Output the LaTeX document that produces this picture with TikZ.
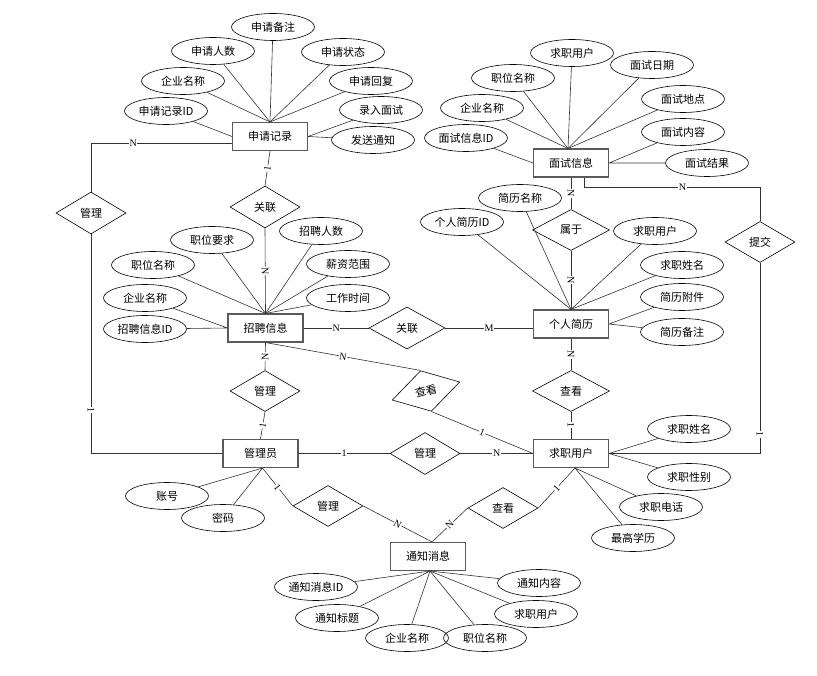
\documentclass[tikz,border=0pt]{standalone}
\usepackage{fontspec}
\setmainfont{Liberation Serif}
\newfontfamily\cjk{Noto Sans CJK SC}
\usetikzlibrary{shapes.geometric}

\begin{document}
\begin{tikzpicture}[x=1pt,y=-1pt,
    entity/.style={draw=black!65,line width=1.1pt,minimum width=75pt,minimum height=28pt,inner sep=0pt,font=\cjk\fontsize{11}{13}\selectfont},
    attr/.style={ellipse,draw,line width=0.6pt,minimum width=83pt,minimum height=27pt,inner sep=0pt,font=\cjk\fontsize{11}{13}\selectfont},
    rel/.style={diamond,draw,line width=0.6pt,minimum width=70pt,minimum height=42pt,inner sep=0pt,font=\cjk\fontsize{11}{13}\selectfont},
    card/.style={fill=white,inner sep=0.6pt,font=\fontsize{10}{10}\selectfont,sloped},
    link/.style={draw=black!80,line width=0.6pt}]
  \useasboundingbox (0,0) rectangle (817,676);
  % entities
  \node[entity] (sq) at (270,136.5) {申请记录};
  \node[entity] (ms) at (571,163) {面试信息};
  \node[entity] (zp) at (265.5,328) {招聘信息};
  \node[entity] (jl) at (571,324) {个人简历};
  \node[entity] (qy) at (571,453.5) {求职用户};
  \node[entity] (gly) at (260.5,453.5) {管理员};
  \node[entity] (tz) at (428,556.5) {通知消息};
  % relationships
  \node[rel] (gl1) at (91,213) {管理};
  \node[rel] (gx1) at (265,207) {关联};
  \node[rel,minimum width=76pt] (gx2) at (407,328) {关联};
  \node[rel,minimum width=77pt,minimum height=41pt] (sy) at (571,230) {属于};
  \node[rel,minimum height=41pt] (tj) at (760,242) {提交};
  \node[rel,minimum width=77pt,minimum height=41pt] (ck1) at (571,391) {查看};
  \node[rel,rotate=15] (ck2) at (426,391) {查看};
  \node[rel,minimum height=41pt] (gl2) at (265,391) {管理};
  \node[rel] (gl3) at (425,453.5) {管理};
  \node[rel,minimum height=41pt] (gl4) at (328,506) {管理};
  \node[rel,minimum height=41pt] (ck3) at (503,508) {查看};
  % attributes of 申请记录
  \node[attr] (sq1) at (273,27) {申请备注};
  \node[attr] (sq2) at (213,51) {申请人数};
  \node[attr] (sq3) at (343,52) {申请状态};
  \node[attr] (sq4) at (183,81) {企业名称};
  \node[attr] (sq5) at (371,81) {申请回复};
  \node[attr] (sq6) at (166,111) {申请记录ID};
  \node[attr] (sq7) at (381,110) {录入面试};
  \node[attr] (sq8) at (373,140) {发送通知};
  \foreach \a in {sq1,sq2,sq3,sq4,sq5} \draw[link] (\a) -- (sq.north);
  \draw[link] (sq6) -- (sq.west) (sq7) -- (sq.east) (sq8) -- (sq.east);
  % attributes of 面试信息
  \node[attr] (ms1) at (572,53) {求职用户};
  \node[attr] (ms2) at (652,65) {面试日期};
  \node[attr] (ms3) at (513,78) {职位名称};
  \node[attr] (ms4) at (683,99) {面试地点};
  \node[attr] (ms5) at (482,108) {企业名称};
  \node[attr] (ms6) at (466,138) {面试信息ID};
  \node[attr] (ms7) at (683,132) {面试内容};
  \node[attr] (ms8) at (707,163) {面试结果};
  \foreach \a in {ms1,ms2,ms3,ms4,ms5} \draw[link] (\a) -- ([xshift=-3pt]ms.north);
  \draw[link] (ms6) -- (ms.west) (ms7) -- (ms.east) (ms8) -- (ms.east);
  % attributes of 招聘信息
  \node[attr] (zp1) at (212,240) {职位要求};
  \node[attr] (zp2) at (321,231) {招聘人数};
  \node[attr] (zp3) at (153,265) {职位名称};
  \node[attr] (zp4) at (348,264) {薪资范围};
  \node[attr] (zp5) at (145,298) {企业名称};
  \node[attr] (zp6) at (348,298) {工作时间};
  \node[attr] (zp7) at (145,329) {招聘信息ID};
  \foreach \a in {zp1,zp2,zp3,zp4,zp6} \draw[link] (\a) -- (zp.north);
  \draw[link] (zp5) -- (zp.west) (zp7) -- (zp.west);
  % attributes of 个人简历
  \node[attr] (jl1) at (462,222) {个人简历ID};
  \node[attr] (jl2) at (520,198) {简历名称};
  \node[attr] (jl3) at (655,231) {求职用户};
  \node[attr] (jl4) at (682,265) {求职姓名};
  \node[attr] (jl5) at (682,297) {简历附件};
  \node[attr] (jl6) at (682,332) {简历备注};
  \foreach \a in {jl1,jl2,jl3,jl4} \draw[link] (\a) -- (jl.north);
  \draw[link] (jl5) -- (jl.east) (jl6) -- (jl.east);
  % attributes of 求职用户
  \node[attr] (qy1) at (689,429) {求职姓名};
  \node[attr] (qy2) at (689,477) {求职性别};
  \node[attr] (qy3) at (661,507) {求职电话};
  \node[attr] (qy4) at (633,538) {最高学历};
  \draw[link] (qy1) -- (qy.east) (qy2) -- (qy.east) (qy3) -- ([xshift=4pt]qy.south) (qy4) -- ([xshift=4pt]qy.south);
  % attributes of 管理员
  \node[attr] (gy1) at (167,496) {账号};
  \node[attr] (gy2) at (223,518) {密码};
  \draw[link] (gy1) -- ([xshift=2pt]gly.south) (gy2) -- ([xshift=2pt]gly.south);
  % attributes of 通知消息
  \node[attr] (tz1) at (316,587) {通知消息ID};
  \node[attr] (tz2) at (337,618) {通知标题};
  \node[attr] (tz3) at (407,638) {企业名称};
  \node[attr] (tz4) at (485,638) {职位名称};
  \node[attr] (tz5) at (539,583) {通知内容};
  \node[attr] (tz6) at (536,614) {求职用户};
  \foreach \a in {tz1,tz2,tz3,tz4,tz5,tz6} \draw[link] (\a) -- ([xshift=2pt]tz.south);
  % connectors with cardinalities
  \draw[link] (sq.south) -- node[card]{1} (gx1.north);
  \draw[link] (gx1.south) -- node[card]{N} (zp.north);
  \draw[link] ([yshift=-6.5pt]sq.west) -| node[card,pos=.35]{N} (gl1.north);
  \draw[link] (gl1.south) |- node[card,pos=.4]{1} (gly.west);
  \draw[link] (zp.east) -- node[card]{N} (gx2.west);
  \draw[link] (gx2.east) -- node[card]{M} (gx2.east -| jl.west);
  \draw[link] (ms.south) -- node[card]{N} (sy.north);
  \draw[link] (sy.south) -- node[card]{N} (jl.north);
  \draw[link] ([xshift=13pt]ms.south) -- ++(0,10) -| node[card,pos=.28]{N} (tj.north);
  \draw[link] (tj.south) |- node[card,pos=.45]{1} (qy.east);
  \draw[link] (jl.south) -- node[card]{N} (ck1.north);
  \draw[link] (ck1.south) -- node[card]{1} (qy.north);
  \draw[link] (zp.south) -- node[card]{N} (gl2.north);
  \draw[link] (gl2.south) -- node[card]{1} (gly.north);
  \draw[link] (gly.east) -- node[card]{1} (gl3.west);
  \draw[link] (gl3.east) -- node[card]{N} (qy.west);
  \draw[link] (zp.south) -- node[card]{N} (ck2.north);
  \draw[link] (ck2.south) -- node[card]{1} (qy.west);
  \draw[link] ([xshift=2pt]gly.south) -- node[card]{1} (gl4.west);
  \draw[link] (gl4.east) -- node[card]{N} ([xshift=4pt]tz.north);
  \draw[link] ([xshift=4pt]tz.north) -- node[card]{N} (ck3.west);
  \draw[link] (ck3.east) -- node[card]{1} ([xshift=4pt]qy.south);
\end{tikzpicture}
\end{document}
